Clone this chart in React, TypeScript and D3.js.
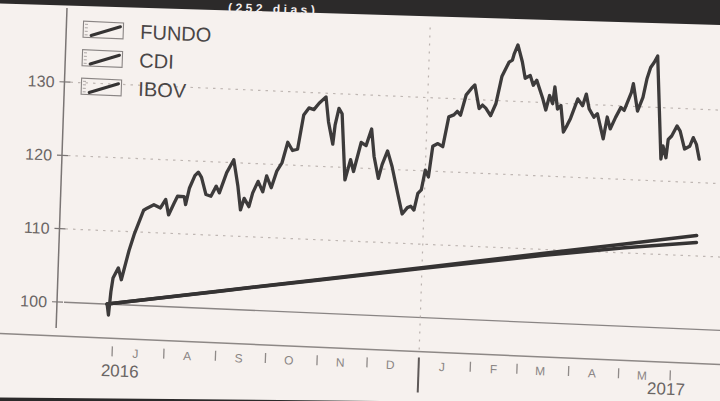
import React from "react";
import * as d3 from "d3";

// ---------- data ----------
const ibovDates = [
  "2016-06-27","2016-06-28","2016-06-29","2016-06-30","2016-07-03","2016-07-05","2016-07-09","2016-07-12",
  "2016-07-17","2016-07-19","2016-07-23","2016-07-27","2016-07-30","2016-08-01","2016-08-04","2016-08-06",
  "2016-08-10","2016-08-11","2016-08-13","2016-08-16","2016-08-18","2016-08-20","2016-08-23","2016-08-26",
  "2016-08-29","2016-08-31","2016-09-04","2016-09-08","2016-09-11","2016-09-13","2016-09-15","2016-09-18",
  "2016-09-20","2016-09-23","2016-09-26","2016-09-28","2016-10-01","2016-10-04","2016-10-07","2016-10-10",
  "2016-10-13","2016-10-16","2016-10-19","2016-10-22","2016-10-25","2016-10-28","2016-11-01","2016-11-03",
  "2016-11-06","2016-11-07","2016-11-09","2016-11-11","2016-11-14","2016-11-17","2016-11-19","2016-11-23",
  "2016-11-26","2016-11-29","2016-12-01","2016-12-04","2016-12-06","2016-12-09","2016-12-12","2016-12-16",
  "2016-12-19","2016-12-22","2016-12-24","2016-12-26","2016-12-28","2016-12-30","2017-01-01","2017-01-03",
  "2017-01-05","2017-01-08","2017-01-11","2017-01-14","2017-01-17","2017-01-19","2017-01-21","2017-01-24",
  "2017-01-27","2017-01-29","2017-02-01","2017-02-03","2017-02-05","2017-02-08","2017-02-11","2017-02-14",
  "2017-02-18","2017-02-20","2017-02-21","2017-02-23","2017-02-26","2017-02-28","2017-03-03","2017-03-05",
  "2017-03-07","2017-03-11","2017-03-13","2017-03-15","2017-03-17","2017-03-18","2017-03-20","2017-03-22",
  "2017-03-24","2017-03-26","2017-03-28","2017-04-01","2017-04-04","2017-04-06","2017-04-08","2017-04-11",
  "2017-04-13","2017-04-17","2017-04-19","2017-04-21","2017-04-24","2017-04-27","2017-04-29","2017-05-03",
  "2017-05-04","2017-05-07","2017-05-10","2017-05-12","2017-05-14","2017-05-16","2017-05-18","2017-05-22",
  "2017-05-23","2017-05-25","2017-05-26","2017-05-28","2017-05-31","2017-06-02","2017-06-05","2017-06-08",
  "2017-06-10","2017-06-12","2017-06-14"
];
const ibovValues = [
  100.0, 98.5, 101.7, 103.6, 105.0, 103.4, 107.4, 109.8,
  113.0, 113.3, 113.8, 113.4, 114.6, 112.5, 114.1, 115.1,
  115.1, 114.0, 116.3, 118.0, 118.5, 117.8, 115.5, 115.3,
  116.7, 115.8, 118.6, 120.4, 116.8, 113.6, 115.2, 114.1,
  116.0, 117.6, 116.2, 118.4, 116.8, 119.1, 120.3, 123.1,
  122.0, 122.2, 126.9, 127.9, 127.7, 128.6, 129.5, 126.1,
  123.1, 125.7, 128.0, 127.3, 118.3, 121.1, 119.5, 123.5,
  123.1, 125.4, 121.7, 118.7, 120.6, 122.5, 120.4, 116.7,
  114.0, 114.9, 115.1, 114.6, 116.9, 117.4, 120.1, 119.2,
  123.4, 123.8, 123.4, 127.5, 127.8, 128.3, 127.8, 130.6,
  131.5, 132.0, 128.8, 129.3, 128.9, 127.9, 129.6, 133.3,
  135.3, 135.6, 136.5, 137.7, 135.4, 133.2, 133.6, 132.3,
  133.0, 130.5, 129.0, 131.0, 129.9, 132.2, 129.2, 129.7,
  126.1, 127.0, 128.0, 130.7, 129.8, 131.4, 129.4, 128.3,
  128.8, 125.4, 128.4, 126.8, 128.4, 129.8, 129.4, 131.9,
  133.1, 129.4, 131.3, 133.8, 135.4, 136.1, 137.0, 123.0,
  124.8, 123.2, 125.7, 126.2, 127.6, 126.9, 124.5, 124.9,
  126.1, 125.2, 123.2
];
const cdiDates = ["2016-06-27","2016-09-01","2016-11-01","2017-01-02","2017-03-15","2017-05-02","2017-06-14"];
const cdiValues = [100.0, 102.4, 104.6, 106.85, 109.5, 111.2, 112.8];
const fundoDates = ["2016-06-27","2016-09-01","2016-11-01","2017-01-02","2017-03-15","2017-05-02","2017-06-14"];
const fundoValues = [100.0, 102.38, 104.53, 106.72, 109.2, 110.7, 111.85];

const legendNames = ["FUNDO", "CDI", "IBOV"];
const yTickValues = [100, 110, 120, 130];
const monthLetters = ["J", "A", "S", "O", "N", "D", "J", "F", "M", "A", "M"];
const yearLabels = ["2016", "2017"];
const titleText = "(252 dias)";

// ---------- helpers ----------
const parse = d3.timeParse("%Y-%m-%d");
const toPoints = (ds: string[], vs: number[]) =>
  ds.map((s, i) => [parse(s) as Date, vs[i]] as [Date, number]);

const W = 720;
const H = 401;
const PAPER = "#f6f1ee";
const INK = "#353333";

export default function App() {
  const x = d3
    .scaleTime()
    .domain([new Date(2016, 6, 1), new Date(2017, 5, 1)])
    .range([113.8, 671.8]);
  const y = d3.scaleLinear().domain([100, 130]).range([302, 82]);

  const line = d3
    .line<[Date, number]>()
    .x((d) => x(d[0]))
    .y((d) => y(d[1]));

  const ibov = toPoints(ibovDates, ibovValues);
  const cdi = toPoints(cdiDates, cdiValues);
  const fundo = toPoints(fundoDates, fundoValues);

  const monthStarts = d3.timeMonth.range(new Date(2016, 6, 1), new Date(2017, 5, 2));
  const monthMids = d3.timeMonth
    .range(new Date(2016, 6, 1), new Date(2017, 5, 1))
    .map((m) => d3.timeDay.offset(m, 14));
  const yearStart = new Date(2017, 0, 1);

  // photo tilt: affine about (58,302)
  const px = 58, py = 302, sy = 0.043, sx = -0.034;
  const tf = `matrix(1, ${sy}, ${sx}, 1, ${(-sx * py).toFixed(3)}, ${(-sy * px).toFixed(3)})`;

  const legendRows = [28.5, 57, 85.5];

  return (
    <svg
      width={W}
      height={H}
      viewBox={`0 0 ${W} ${H}`}
      style={{ position: "fixed", left: 0, top: 0, display: "block", background: PAPER }}
      fontFamily="'Liberation Sans', Arial, sans-serif"
    >
      <rect x={0} y={0} width={W} height={H} fill={PAPER} />

      <g transform={tf}>
        {/* dashed gridlines */}
        {yTickValues.slice(1).map((t) => (
          <line key={"g" + t} x1={63} x2={760} y1={y(t)} y2={y(t)} stroke="#bfb7b3" strokeWidth={1.2} strokeDasharray="2.5 5" />
        ))}
        {/* solid 100 reference line */}
        <line x1={64} x2={760} y1={y(100)} y2={y(100)} stroke="#8a8584" strokeWidth={1.3} />
        {/* year vertical gridline */}
        <line x1={x(yearStart)} x2={x(yearStart)} y1={12} y2={336} stroke="#b9b1ad" strokeWidth={1.2} strokeDasharray="2 6" />

        {/* y axis */}
        <line x1={57} x2={57} y1={8} y2={328} stroke="#7a7574" strokeWidth={1.5} />
        {yTickValues.map((t) => (
          <g key={"t" + t}>
            <line x1={52} x2={63} y1={y(t)} y2={y(t)} stroke="#7a7574" strokeWidth={1.2} />
            <text x={47} y={y(t)} dy="0.36em" textAnchor="end" fontSize={16} fill="#6a6564">
              {t}
            </text>
          </g>
        ))}

        {/* x axis baseline */}
        <line x1={-30} x2={760} y1={336} y2={336} stroke="#8d8886" strokeWidth={1.5} />
        {monthStarts.map((m, i) =>
          +m === +yearStart ? (
            <line key={"m" + i} x1={x(m)} x2={x(m)} y1={342} y2={377} stroke="#5e5958" strokeWidth={2} />
          ) : (
            <line key={"m" + i} x1={x(m)} x2={x(m)} y1={344} y2={354} stroke="#8f8a88" strokeWidth={1.3} />
          )
        )}
        {monthMids.map((m, i) => (
          <text key={"l" + i} x={x(m)} y={354.5} textAnchor="middle" fontSize={12} fill="#8a8584">
            {monthLetters[i]}
          </text>
        ))}
        <text x={122} y={374} textAnchor="middle" fontSize={17} fill="#6a6564">
          {yearLabels[0]}
        </text>
        <text x={668} y={368.5} textAnchor="middle" fontSize={17} fill="#6a6564">
          {yearLabels[1]}
        </text>

        {/* series */}
        <path d={line(cdi) || ""} fill="none" stroke={INK} strokeWidth={3.5} strokeLinejoin="round" strokeLinecap="round" />
        <path d={line(fundo) || ""} fill="none" stroke={INK} strokeWidth={3.5} strokeLinejoin="round" strokeLinecap="round" />
        <path d={line(ibov) || ""} fill="none" stroke="#3d3b3b" strokeWidth={3.3} strokeLinejoin="round" strokeLinecap="round" />

        {/* legend */}
        {legendNames.map((name, i) => {
          const cy = legendRows[i];
          const bx = 74, bw = 40, bh = 16, by = cy - bh / 2;
          return (
            <g key={name}>
              <rect x={bx} y={by} width={bw} height={bh} fill="none" stroke="#8a8584" strokeWidth={1.1} />
              {[3, 6.5, 10, 13.5].map((o) => (
                <line key={o} x1={bx + 1.5} x2={bx + 4.5} y1={by + o} y2={by + o} stroke="#9a9492" strokeWidth={0.8} />
              ))}
              <line x1={bx + 8} y1={by + 14} x2={bx + 37} y2={by + 4} stroke={INK} strokeWidth={3} strokeLinecap="round" />
              <text x={131} y={cy} dy="0.36em" fontSize={20} fill="#4a4646">
                {name}
              </text>
            </g>
          );
        })}
      </g>

      {/* dark title band of the photographed page */}
      <path d={`M0,0 L${W},0 L${W},25 L0,3.5 Z`} fill="#2c2a2a" />
      <text x={228} y={13} fontSize={12} fontWeight="bold" letterSpacing={3.5} fill="#f2eeee" transform="rotate(1.8 276 9)">
        {titleText}
      </text>
      <path d={`M0,397.5 L380,401 L0,401 Z`} fill="#2c2a2a" />
    </svg>
  );
}
